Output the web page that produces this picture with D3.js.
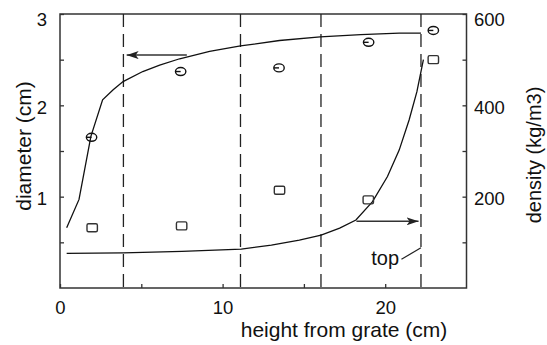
<!DOCTYPE html>
<html>
<head>
<meta charset="utf-8">
<script src="https://cdn.jsdelivr.net/npm/d3@7"></script>
<style>
  body { margin: 0; background: #fff; }
  svg { display: block; font-family: "Liberation Sans", Arial, sans-serif; }
</style>
</head>
<body>
<div id="chart"></div>
<script>
// x: height from grate (cm)
var heightTicks = [0, 10, 20];
var heightMinor = [5, 15];
var diameterTicks = [1, 2, 3];
var diameterMinor = [0.5, 1.5, 2.5];
var densityTicks = [200, 400, 600];
var densityMinor = [100, 300, 500];

// dashed section boundaries
var sections = [3.9, 11.1, 16.05, 22.2];

// model curves
var diameterCurve = [[0.41, 0.66], [1.17, 0.97], [1.9, 1.66], [2.62, 2.06], [3.27, 2.17],
	[3.88, 2.26], [5.09, 2.37], [6.13, 2.44], [7.36, 2.51], [9.2, 2.59], [11.1, 2.65],
	[13.5, 2.71], [16.0, 2.75], [18.5, 2.775], [20.86, 2.79], [22.2, 2.79]];
var densityCurve = [[0.41, 76], [3.88, 77], [7.5, 80], [11.15, 85], [13.0, 94], [14.72, 105],
	[16.06, 116], [17.2, 131], [18.2, 149], [19.22, 189], [20.14, 244], [20.86, 302],
	[21.47, 368], [21.95, 430], [22.35, 500]];

// measured points
var diameterPoints = [[1.94, 1.65], [7.42, 2.37], [13.47, 2.41], [18.98, 2.69], [22.96, 2.82]];
var densityPoints = [[1.98, 132], [7.48, 136], [13.5, 214], [18.96, 193], [22.96, 500]];

var width = 547, height = 345;
var mLeft = 60, mRight = 466.5, mTop = 14, mBottom = 288;

var svg = d3.select("#chart").append("svg")
	.attr("width", width)
	.attr("height", height);

var x = d3.scaleLinear().domain([0, 25]).range([mLeft, mRight]);
var yD = d3.scaleLinear().domain([0, 3]).range([mBottom, mTop]);
var yR = d3.scaleLinear().domain([0, 600]).range([mBottom, mTop]);

var axisColor = "#333";
var fmt = d3.format("d");

function styleAxis(g, size) {
	g.select(".domain").remove();
	g.selectAll(".tick line").attr("stroke", axisColor).attr("stroke-width", 1.3);
	g.selectAll(".tick text").attr("fill", "#111").style("font-size", size + "px");
}

// bottom axis
svg.append("g").attr("transform", "translate(0," + mBottom + ")")
	.call(d3.axisBottom(x).tickValues(heightTicks).tickFormat(fmt).tickSize(-4).tickPadding(13))
	.call(styleAxis, 18.5);
svg.append("g").attr("transform", "translate(0," + mBottom + ")")
	.call(d3.axisBottom(x).tickValues(heightMinor).tickSize(-4).tickFormat(""))
	.call(styleAxis, 18.5);

// left axis
svg.append("g").attr("transform", "translate(" + mLeft + ",0)")
	.call(d3.axisLeft(yD).tickValues(diameterTicks).tickFormat(fmt).tickSize(-4).tickPadding(13))
	.call(styleAxis, 18.5)
	.selectAll(".tick text").attr("dy", null)
	.attr("y", function(d) { return d == 3 ? 11 : 8; });
svg.append("g").attr("transform", "translate(" + mLeft + ",0)")
	.call(d3.axisLeft(yD).tickValues(diameterMinor).tickSize(-4).tickFormat(""))
	.call(styleAxis, 18.5);

// right axis
svg.append("g").attr("transform", "translate(" + mRight + ",0)")
	.call(d3.axisRight(yR).tickValues(densityTicks).tickFormat(fmt).tickSize(-4).tickPadding(7.5))
	.call(styleAxis, 18.5)
	.selectAll(".tick text").attr("dy", null)
	.attr("y", function(d) { return d == 600 ? 11 : 8; });
svg.append("g").attr("transform", "translate(" + mRight + ",0)")
	.call(d3.axisRight(yR).tickValues(densityMinor).tickSize(-4).tickFormat(""))
	.call(styleAxis, 18.5);

// frame
svg.append("rect")
	.attr("x", mLeft).attr("y", mTop)
	.attr("width", mRight - mLeft).attr("height", mBottom - mTop)
	.attr("fill", "none")
	.attr("stroke", axisColor)
	.attr("stroke-width", 1.5);

// dashed section lines
svg.selectAll(".section").data(sections).enter().append("line")
	.attr("class", "section")
	.attr("x1", function(d) { return x(d); })
	.attr("x2", function(d) { return x(d); })
	.attr("y1", mTop)
	.attr("y2", mBottom)
	.attr("stroke", "#222")
	.attr("stroke-width", 1.3)
	.attr("stroke-dasharray", "13,7");

// curves
var lineD = d3.line().x(function(d) { return x(d[0]); }).y(function(d) { return yD(d[1]); });
var lineR = d3.line().x(function(d) { return x(d[0]); }).y(function(d) { return yR(d[1]); });

svg.append("path").datum(diameterCurve)
	.attr("d", lineD)
	.attr("fill", "none")
	.attr("stroke", "#111")
	.attr("stroke-width", 1.3);
svg.append("path").datum(densityCurve)
	.attr("d", lineR)
	.attr("fill", "none")
	.attr("stroke", "#111")
	.attr("stroke-width", 1.3);

// diameter markers: ellipse with a half bar
var circ = svg.selectAll(".dpt").data(diameterPoints).enter().append("g")
	.attr("class", "dpt")
	.attr("transform", function(d) { return "translate(" + x(d[0]) + "," + yD(d[1]) + ")"; });
circ.append("ellipse")
	.attr("rx", 5.2).attr("ry", 4)
	.attr("fill", "none")
	.attr("stroke", "#111")
	.attr("stroke-width", 1.4);
circ.append("line")
	.attr("x1", -5.2).attr("x2", 0)
	.attr("y1", 0).attr("y2", 0)
	.attr("stroke", "#111")
	.attr("stroke-width", 1.4);

// density markers: squares
svg.selectAll(".rpt").data(densityPoints).enter().append("rect")
	.attr("class", "rpt")
	.attr("x", function(d) { return x(d[0]) - 5.2; })
	.attr("y", function(d) { return yR(d[1]) - 4; })
	.attr("width", 10.4)
	.attr("height", 8)
	.attr("rx", 1.5)
	.attr("fill", "none")
	.attr("stroke", "#333")
	.attr("stroke-width", 1.4);

// arrows
svg.append("defs").append("marker")
	.attr("id", "head")
	.attr("viewBox", "0 0 12 8")
	.attr("refX", 12).attr("refY", 4)
	.attr("markerWidth", 12).attr("markerHeight", 8)
	.attr("markerUnits", "userSpaceOnUse")
	.attr("orient", "auto")
	.append("path")
	.attr("d", "M0,0 L12,4 L0,8 L3,4 Z")
	.attr("fill", "#222");

svg.append("line")
	.attr("x1", x(7.8)).attr("y1", yD(2.55))
	.attr("x2", x(4.1)).attr("y2", yD(2.55))
	.attr("stroke", "#333").attr("stroke-width", 1.5)
	.attr("marker-end", "url(#head)");
svg.append("line")
	.attr("x1", x(18.23)).attr("y1", yR(146))
	.attr("x2", x(22.05)).attr("y2", yR(146))
	.attr("stroke", "#333").attr("stroke-width", 1.5)
	.attr("marker-end", "url(#head)");

// "top" label with leader
svg.append("line")
	.attr("x1", x(21.0)).attr("y1", yR(63))
	.attr("x2", x(22.2)).attr("y2", yR(88))
	.attr("stroke", "#222").attr("stroke-width", 1.2);
svg.append("text")
	.attr("x", x(20.85)).attr("y", yR(51))
	.attr("text-anchor", "end")
	.style("font-size", "20px")
	.attr("fill", "#111")
	.text("top");

// axis titles
svg.append("text")
	.attr("transform", "translate(31,146) rotate(-90)")
	.attr("text-anchor", "middle")
	.style("font-size", "21px")
	.attr("fill", "#111")
	.text("diameter (cm)");
svg.append("text")
	.attr("transform", "translate(541,155) rotate(-90)")
	.attr("text-anchor", "middle")
	.style("font-size", "20px")
	.attr("fill", "#111")
	.text("density (kg/m3)");
svg.append("text")
	.attr("x", 344).attr("y", 337)
	.attr("text-anchor", "middle")
	.style("font-size", "21px")
	.attr("fill", "#111")
	.text("height from grate (cm)");
</script>
</body>
</html>
